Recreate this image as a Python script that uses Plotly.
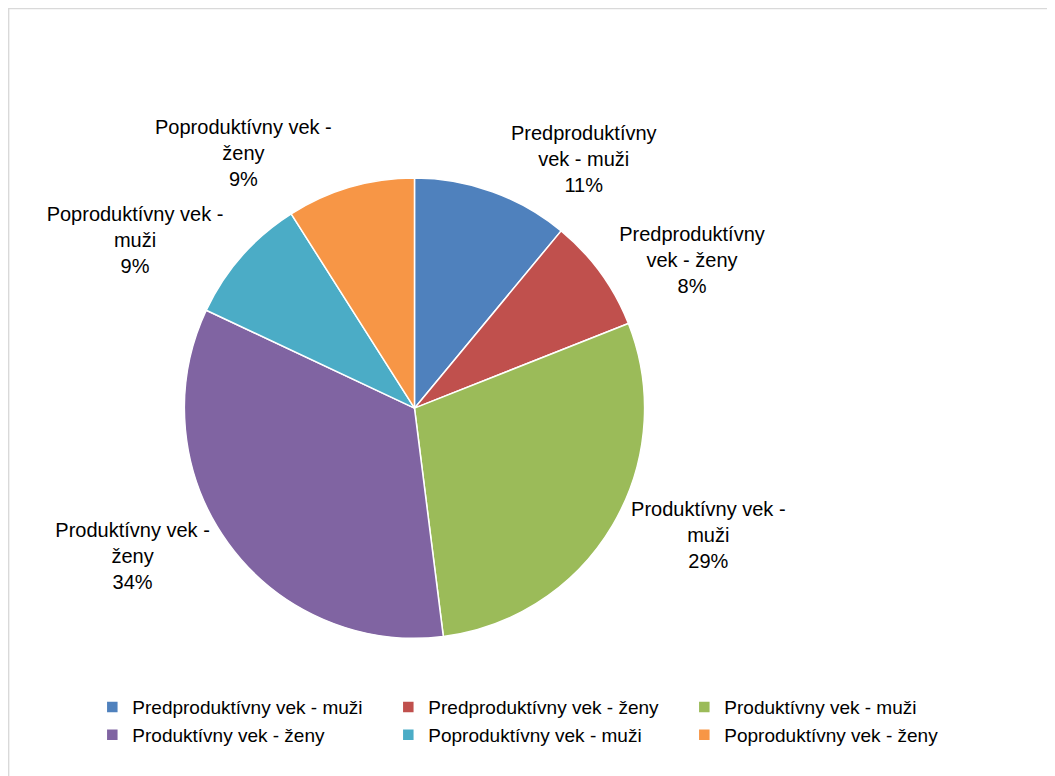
import plotly.graph_objects as go

# Slices in drawing order (clockwise from 12 o'clock)
categories = [
    "Predproduktívny vek - muži",
    "Predproduktívny vek - ženy",
    "Produktívny vek - muži",
    "Produktívny vek - ženy",
    "Poproduktívny vek - muži",
    "Poproduktívny vek - ženy",
]
shares = [11, 8, 29, 34, 9, 9]
label_text = [
    "Predproduktívny<br>vek - muži",
    "Predproduktívny<br>vek - ženy",
    "Produktívny vek -<br>muži",
    "Produktívny vek -<br>ženy",
    "Poproduktívny vek -<br>muži",
    "Poproduktívny vek -<br>ženy",
]
slice_colors = ["#4F81BD", "#C0504D", "#9BBB59", "#8064A2", "#4BACC6", "#F79646"]

FONT = "Liberation Sans"

fig = go.Figure()
fig.add_trace(
    go.Pie(
        labels=categories,
        values=shares,
        text=label_text,
        sort=False,
        direction="clockwise",
        rotation=0,
        marker=dict(colors=slice_colors, line=dict(color="white", width=1.5)),
        texttemplate="%{text}<br>%{percent:.0%}",
        textposition="outside",
        textfont=dict(family=FONT, size=20, color="black"),
        domain=dict(x=[0.15, 0.61], y=[0.19, 0.79]),
        hoverinfo="label+percent",
    )
)

fig.update_layout(
    width=1055,
    height=776,
    paper_bgcolor="white",
    plot_bgcolor="white",
    margin=dict(l=9, r=0, t=9, b=0),
    font=dict(family=FONT, size=19, color="black"),
    showlegend=True,
    legend=dict(
        orientation="h",
        x=0.072,
        xanchor="left",
        y=0.125,
        yanchor="top",
        entrywidth=251,
        entrywidthmode="pixels",
        itemwidth=30,
        font=dict(family=FONT, size=19),
    ),
    shapes=[
        dict(
            type="rect",
            xref="paper",
            yref="paper",
            x0=-0.008,
            x1=1.02,
            y0=-0.02,
            y1=1.011,
            line=dict(color="#D9D9D9", width=1.5),
            layer="below",
        )
    ],
)

fig.write_html("out.html")
